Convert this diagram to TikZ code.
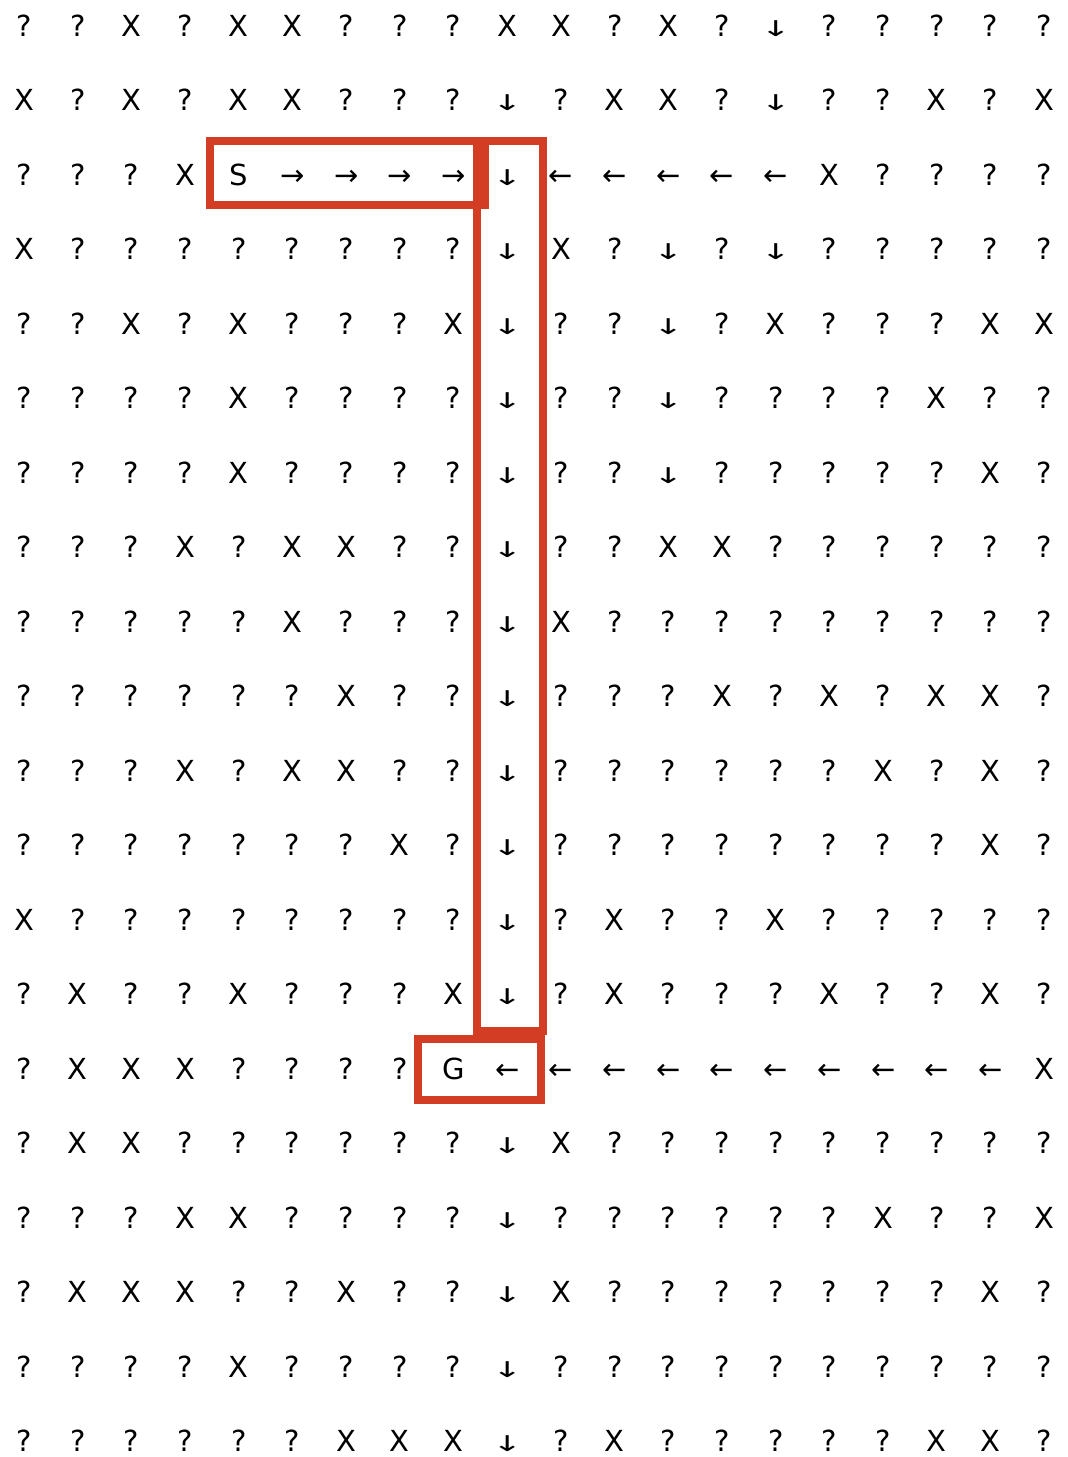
\documentclass[tikz,border=0pt]{standalone}
\usepackage{fontspec}
\usepackage{graphicx}
\setmainfont{DejaVu Sans}
\definecolor{boxred}{RGB}{211,61,36}
\newcommand\cellq{?}
\newcommand\cellx{X}
\newcommand\cellS{S}
\newcommand\cellG{G}
\newcommand\cellr{→}
\newcommand\celll{←}
\newcommand\celld{\scalebox{1.25}[0.75]{↓}}
\begin{document}
\begin{tikzpicture}[x=1pt,y=-1pt,
  cell/.style={inner sep=0pt, anchor=base, font=\fontsize{29}{34}\selectfont},
  pathbox/.style={draw=boxred, line width=7.5pt, line join=miter}]
\useasboundingbox (0,0) rectangle (1068,1457);
\foreach \row [count=\i from 0] in {
 {q,q,x,q,x,x,q,q,q,x,x,q,x,q,d,q,q,q,q,q},
 {x,q,x,q,x,x,q,q,q,d,q,x,x,q,d,q,q,x,q,x},
 {q,q,q,x,S,r,r,r,r,d,l,l,l,l,l,x,q,q,q,q},
 {x,q,q,q,q,q,q,q,q,d,x,q,d,q,d,q,q,q,q,q},
 {q,q,x,q,x,q,q,q,x,d,q,q,d,q,x,q,q,q,x,x},
 {q,q,q,q,x,q,q,q,q,d,q,q,d,q,q,q,q,x,q,q},
 {q,q,q,q,x,q,q,q,q,d,q,q,d,q,q,q,q,q,x,q},
 {q,q,q,x,q,x,x,q,q,d,q,q,x,x,q,q,q,q,q,q},
 {q,q,q,q,q,x,q,q,q,d,x,q,q,q,q,q,q,q,q,q},
 {q,q,q,q,q,q,x,q,q,d,q,q,q,x,q,x,q,x,x,q},
 {q,q,q,x,q,x,x,q,q,d,q,q,q,q,q,q,x,q,x,q},
 {q,q,q,q,q,q,q,x,q,d,q,q,q,q,q,q,q,q,x,q},
 {x,q,q,q,q,q,q,q,q,d,q,x,q,q,x,q,q,q,q,q},
 {q,x,q,q,x,q,q,q,x,d,q,x,q,q,q,x,q,q,x,q},
 {q,x,x,x,q,q,q,q,G,l,l,l,l,l,l,l,l,l,l,x},
 {q,x,x,q,q,q,q,q,q,d,x,q,q,q,q,q,q,q,q,q},
 {q,q,q,x,x,q,q,q,q,d,q,q,q,q,q,q,x,q,q,x},
 {q,x,x,x,q,q,x,q,q,d,x,q,q,q,q,q,q,q,x,q},
 {q,q,q,q,x,q,q,q,q,d,q,q,q,q,q,q,q,q,q,q},
 {q,q,q,q,q,q,x,x,x,d,q,x,q,q,q,q,q,x,x,q}} {
  \foreach \ch [count=\j from 0] in \row {
    \node[cell] (c-\i-\j) at ({24+53.7*\j},{25+74.5*\i+11}) {\csname cell\ch\endcsname};
  }
}
\draw[pathbox] (210,141) rectangle (485,205);
\draw[pathbox] (477,141) rectangle (543,1031);
\draw[pathbox] (418,1039) rectangle (541,1100);
\end{tikzpicture}
\end{document}
